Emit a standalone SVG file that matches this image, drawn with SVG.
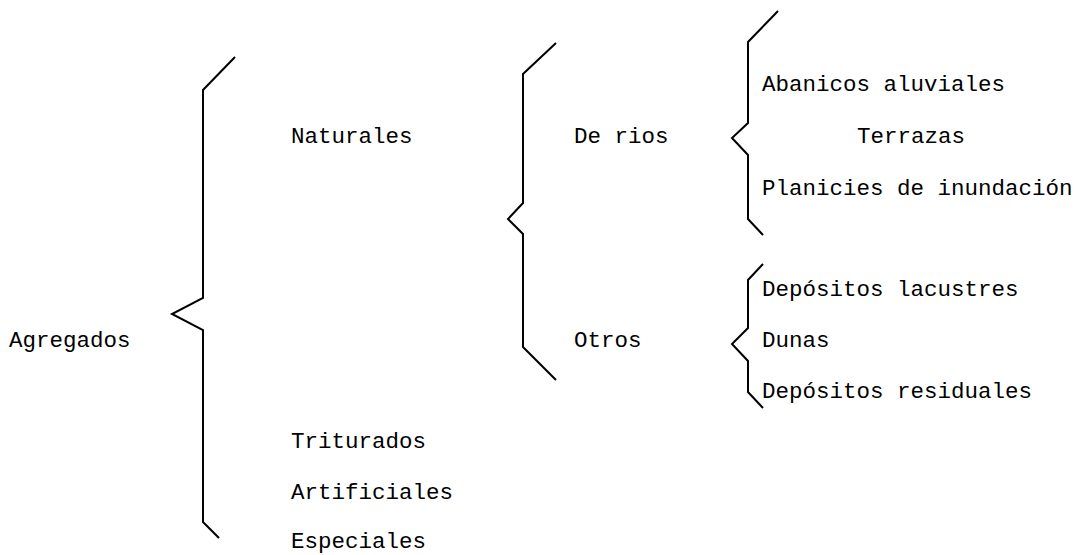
<svg xmlns="http://www.w3.org/2000/svg" width="1080" height="555" viewBox="0 0 1080 555">
<style>
.b{fill:none;stroke:#000;stroke-width:2;stroke-linejoin:miter}
text{font-family:"Liberation Mono","Courier New",monospace;font-size:22.5px;fill:#000}
</style>
<rect width="1080" height="555" fill="#fff"/>
<g id="connectors">
<polyline class="b" points="235,57 203,90 203,298 172,314 203,330 203,522 219,538"/>
<polyline class="b" points="556,43 523,74 523,203 508,219 523,234 523,347 556,380"/>
<polyline class="b" points="778,11 748,42 748,123 732,138 748,155 748,219 763,235"/>
<polyline class="b" points="763,264 748,280 748,328 732,344 748,361 748,392 763,408"/>
</g>
<g id="agregados"><text x="9" y="347">Agregados</text></g>
<g id="naturales"><text x="291" y="143">Naturales</text></g>
<g id="triturados"><text x="291" y="448">Triturados</text></g>
<g id="artificiales"><text x="291" y="499">Artificiales</text></g>
<g id="especiales"><text x="291" y="548">Especiales</text></g>
<g id="derios"><text x="574" y="143">De rios</text></g>
<g id="otros"><text x="574" y="347">Otros</text></g>
<g id="abanicos"><text x="762" y="91">Abanicos aluviales</text></g>
<g id="terrazas"><text x="857" y="143">Terrazas</text></g>
<g id="planicies"><text x="762" y="195">Planicies de inundación</text></g>
<g id="lacustres"><text x="762" y="296">Depósitos lacustres</text></g>
<g id="dunas"><text x="762" y="347">Dunas</text></g>
<g id="residuales"><text x="762" y="398">Depósitos residuales</text></g>
</svg>
